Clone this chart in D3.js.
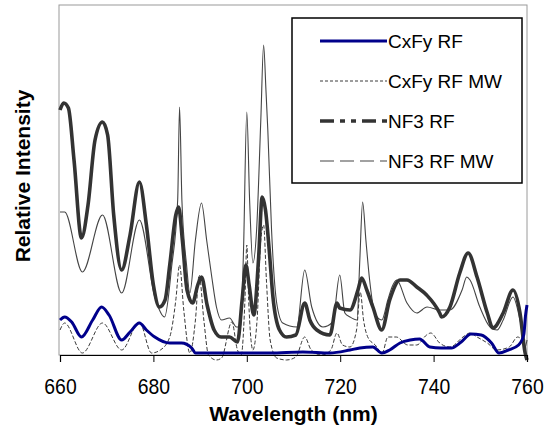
<!DOCTYPE html>
<html>
<head>
<meta charset="utf-8">
<script src="https://cdn.jsdelivr.net/npm/d3@7"></script>
<style>
  html, body { margin: 0; padding: 0; background: #fff; }
  svg { display: block; }
</style>
</head>
<body>
<svg id="chart" width="544" height="432"></svg>
<script>
// ---- Data (arbitrary intensity units) ----
const xTicks = [660, 680, 700, 720, 740, 760];
const seriesNames = ["CxFy RF", "CxFy RF MW", "NF3 RF", "NF3 RF MW"];

const wlCxFyRF = [660, 661, 662.5, 664.6, 667, 668.9, 670.5, 673.2, 675, 677, 678.5, 680.3, 683.5, 686, 688.2, 689, 695, 705, 712, 717.8, 722.1, 724.2, 727, 728.9, 730.6, 732.8, 735, 737, 739.2, 741.6, 743.8, 745.9, 748, 750.2, 752.4, 754, 756, 758.2, 759.3, 759.7, 760];
const valCxFyRF = [35, 38, 33, 18, 35, 48, 40, 15, 23, 32, 25, 18, 12, 12, 7, 2, 2, 2, 3, 2, 5, 7, 8, 2, 5, 12, 15, 16, 8, 7, 7, 13, 21, 20, 12, 2, 5, 10, 20, 40, 50];

const wlCxFyRFMW = [660, 661, 664.8, 669.1, 673.2, 677.0, 679.6, 681.5, 683.5, 684.8, 685.6, 686.5, 687.8, 689.0, 689.8, 690.8, 691.8, 693.5, 694.6, 696.8, 698.0, 698.8, 699.6, 700.0, 700.4, 701.3, 702.2, 703.0, 703.6, 704.2, 705.0, 706.4, 708.5, 710.5, 712.4, 713.8, 716.0, 718.0, 719.3, 720.5, 722.1, 723.5, 724.3, 725.0, 726.0, 727.5, 729.0, 730.2, 732.0, 734.5, 736.4, 738.5, 739.4, 741.3, 743.5, 746.3, 747.8, 749.3, 751.5, 753.5, 756.2, 758.0, 759.3, 760];
const valCxFyRFMW = [25, 32, 2, 32, 5, 33, 2, 5, 18, 55, 90, 45, 2, 35, 80, 35, 0, -5, -3, 33, 5, 0, 55, 110, 55, 5, 35, 115, 130, 75, 15, -3, -5, -2, 18, 5, 0, 5, 22, 10, 8, 25, 63, 35, 17, 10, 2, 18, 18, 10, 10, 20, 22, 12, 8, 18, 22, 18, 12, 5, 8, 18, 15, 15];

const wlNF3RF = [660, 660.8, 661.8, 663, 664.6, 666, 667.5, 669.1, 670.2, 671.5, 673.2, 675, 677, 678.5, 680, 681.3, 682.5, 683.5, 684.8, 685.4, 686.2, 687.2, 688.4, 689.5, 690.3, 691.5, 693, 694.5, 696.3, 698, 699, 699.8, 700.5, 701.5, 702.5, 703.3, 704, 704.8, 705.6, 707, 708.5, 710.5, 712.4, 713.5, 715, 717.8, 719.3, 719.9, 722.1, 723.8, 724.6, 725.7, 727, 728.9, 730.6, 732.8, 734.3, 736.4, 738.5, 741.3, 741.7, 743.5, 745.6, 747.4, 749.3, 751.5, 752.7, 754.9, 757, 758.5, 759.6, 760];
const valNF3RF = [245, 252, 247, 195, 117, 150, 215, 233, 220, 140, 85, 120, 173, 130, 70, 48, 55, 90, 140, 148, 115, 65, 52, 70, 78, 50, 25, 18, 18, 13, 55, 90, 70, 40, 95, 158, 145, 105, 58, 25, 18, 20, 52, 35, 25, 20, 52, 47, 45, 65, 77, 65, 48, 25, 55, 75, 75, 68, 60, 42, 38, 48, 82, 102, 78, 42, 27, 42, 65, 42, 2, -5];

const wlNF3RFMW = [660, 661, 664.8, 669.1, 673.2, 677.0, 680.3, 682.4, 683.9, 685.2, 685.6, 686.1, 687.1, 687.8, 689.0, 690.3, 691.4, 692.5, 693.5, 694.6, 696.3, 697.8, 698.7, 699.3, 700.0, 700.6, 701.3, 702.1, 703.0, 703.6, 704.1, 704.5, 705.3, 706.4, 707.7, 710.7, 712.4, 713.9, 716.3, 718.4, 719.9, 721.0, 722.1, 723.6, 724.2, 724.8, 725.5, 726.3, 727.4, 728.9, 730.2, 731.1, 732.1, 734.3, 736.4, 738.6, 741.3, 743.5, 746.1, 747.1, 747.8, 749.9, 752.1, 753.6, 754.9, 757.0, 758.5, 759.6, 760];
const valNF3RFMW = [143, 143, 83, 140, 62, 135, 58, 38, 88, 155, 248, 155, 90, 62, 115, 152, 115, 78, 48, 35, 37, 28, 28, 105, 243, 155, 92, 125, 235, 310, 265, 225, 125, 52, 32, 28, 85, 48, 28, 33, 80, 42, 38, 35, 95, 153, 115, 75, 42, 35, 55, 68, 75, 52, 42, 48, 45, 45, 65, 78, 75, 48, 28, 25, 35, 58, 35, 8, 15];

// ---- Layout ----
const svg = d3.select("#chart");
const plotLeft = 60, plotRight = 527, plotTop = 5, plotBottom = 355;

const x = d3.scaleLinear().domain([660, 760]).range([plotLeft, plotRight]);
const y = d3.scaleLinear().domain([0, 350]).range([plotBottom, plotTop]);

const zip = (a, b) => a.map((w, i) => [w, b[i]]);
const line = d3.line().x(d => x(d[0])).y(d => y(d[1])).curve(d3.curveMonotoneX);

// plot frame (grey)
svg.append("rect")
  .attr("x", plotLeft - 1).attr("y", plotTop)
  .attr("width", plotRight - plotLeft + 1).attr("height", plotBottom - plotTop)
  .attr("fill", "none").attr("stroke", "#9a9a9a").attr("stroke-width", 1);

// series
const styles = {
  "NF3 RF MW": { stroke: "#444444", width: 1.1, dash: null, legendDash: "14,6" },
  "CxFy RF MW": { stroke: "#3a3a3a", width: 1, dash: "4,2", legendDash: "3,2" },
  "NF3 RF": { stroke: "#333333", width: 3.6, dash: null, legendDash: "14,6,5,6,5,6" },
  "CxFy RF": { stroke: "#00008b", width: 3, dash: null, legendDash: null }
};
const dataByName = {
  "CxFy RF": zip(wlCxFyRF, valCxFyRF),
  "CxFy RF MW": zip(wlCxFyRFMW, valCxFyRFMW),
  "NF3 RF": zip(wlNF3RF, valNF3RF),
  "NF3 RF MW": zip(wlNF3RFMW, valNF3RFMW)
};
["NF3 RF MW", "CxFy RF MW", "NF3 RF", "CxFy RF"].forEach(name => {
  const s = styles[name];
  svg.append("path")
    .datum(dataByName[name])
    .attr("fill", "none")
    .attr("stroke", s.stroke)
    .attr("stroke-width", s.width)
    .attr("stroke-dasharray", s.dash)
    .attr("stroke-linejoin", "round")
    .attr("d", line);
});

// x axis
const xAxis = d3.axisBottom(x).tickValues(xTicks).tickSize(7).tickPadding(16).tickFormat(d3.format("d"));
const gx = svg.append("g").attr("transform", `translate(0,${plotBottom})`).call(xAxis);
gx.select(".domain").attr("stroke", "#000").attr("stroke-width", 1.2);
gx.selectAll(".tick line").attr("stroke", "#000");
gx.selectAll(".tick text")
  .attr("font-family", "Arial, 'Liberation Sans', sans-serif")
  .attr("font-size", 22).attr("fill", "#000")
  .attr("transform", "scale(0.88,1)");

// axis titles
svg.append("text")
  .attr("x", (plotLeft + plotRight) / 2).attr("y", 421)
  .attr("text-anchor", "middle")
  .attr("font-family", "Arial, 'Liberation Sans', sans-serif")
  .attr("font-weight", "bold").attr("font-size", 21)
  .text("Wavelength (nm)");
svg.append("text")
  .attr("transform", "translate(30,176) rotate(-90)")
  .attr("text-anchor", "middle")
  .attr("font-family", "Arial, 'Liberation Sans', sans-serif")
  .attr("font-weight", "bold").attr("font-size", 21)
  .text("Relative Intensity");

// legend
const lg = svg.append("g");
lg.append("rect").attr("x", 292).attr("y", 18).attr("width", 230).attr("height", 165)
  .attr("fill", "#fff").attr("stroke", "#000").attr("stroke-width", 1.5);
seriesNames.forEach((name, i) => {
  const cy = 41 + i * 40;
  const s = styles[name];
  lg.append("line").attr("x1", 320).attr("x2", 387).attr("y1", cy).attr("y2", cy)
    .attr("stroke", s.stroke).attr("stroke-width", s.width)
    .attr("stroke-dasharray", s.legendDash);
  lg.append("text").attr("x", 388).attr("y", cy + 7)
    .attr("font-family", "Arial, 'Liberation Sans', sans-serif")
    .attr("font-size", 19).attr("fill", "#000")
    .text(name);
});
</script>
</body>
</html>
